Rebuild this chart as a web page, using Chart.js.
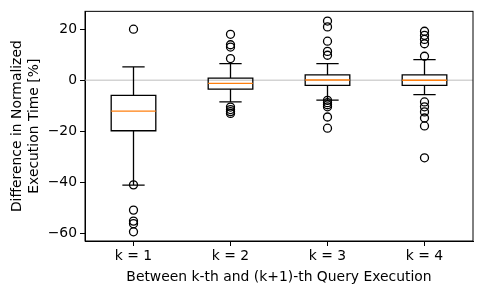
<!DOCTYPE html>
<html>
<head>
<meta charset="utf-8">
<script src="https://cdn.jsdelivr.net/npm/chart.js@4"></script>
<style>
  html, body { margin: 0; padding: 0; background: #fff; }
  #wrap { width: 482px; height: 294px; }
</style>
</head>
<body>
<div id="wrap"><canvas id="c"></canvas></div>
<script>
// categories and box stats
const labels = ['k = 1', 'k = 2', 'k = 3', 'k = 4']
const q1 = [-19.8, -3.5, -2.0, -2.0]
const q3 = [-5.9, 0.8, 2.1, 2.1]
const medians = [-12.1, -1.2, 0.1, 0.0]
const whiskLo = [-41.1, -8.5, -7.8, -5.6]
const whiskHi = [5.2, 6.5, 6.5, 8.1]
const outliers = [
  [20.0, -41.0, -50.9, -55.2, -56.2, -59.4],
  [18.0, 13.9, 13.0, 8.5, -10.5, -11.5, -12.3, -13.0],
  [23.2, 20.9, 15.3, 11.3, 9.8, -7.9, -8.8, -9.6, -10.4, -14.4, -18.8],
  [19.2, 17.6, 16.0, 14.3, 9.4, -8.5, -10.4, -12.4, -14.8, -17.9, -30.4]
]
const yTicks = [-60, -40, -20, 0, 20]

const font = { family: 'DejaVu Sans', size: 13.9 }
const lw = 1.3
const boxWidth = 0.46

let outlierPts = []
outliers.forEach((arr, i) => {
  arr.forEach(v => outlierPts.push({ x: i + 1, y: v }))
})

const boxPlugin = {
  id: 'boxbits',
  beforeDatasetsDraw(chart) {
    const { ctx, chartArea, scales } = chart
    const xs = scales.x, ys = scales.y
    // light zero line
    let y0 = ys.getPixelForValue(0)
    ctx.save()
    ctx.strokeStyle = '#d3d3d3'
    ctx.lineWidth = 1.5
    ctx.beginPath()
    ctx.moveTo(chartArea.left, y0)
    ctx.lineTo(chartArea.right, y0)
    ctx.stroke()

    ctx.lineWidth = lw
    for (let i = 0; i < labels.length; i++) {
      const cx = xs.getPixelForValue(i + 1)
      const bl = xs.getPixelForValue(i + 1 - boxWidth / 2)
      const br = xs.getPixelForValue(i + 1 + boxWidth / 2)
      const cl = xs.getPixelForValue(i + 1 - boxWidth / 4)
      const cr = xs.getPixelForValue(i + 1 + boxWidth / 4)
      const yq1 = ys.getPixelForValue(q1[i])
      const yq3 = ys.getPixelForValue(q3[i])
      const yhi = ys.getPixelForValue(whiskHi[i])
      const ylo = ys.getPixelForValue(whiskLo[i])
      ctx.strokeStyle = '#000'
      ctx.beginPath()
      ctx.rect(bl, yq3, br - bl, yq1 - yq3)
      ctx.moveTo(cx, yq3)
      ctx.lineTo(cx, yhi)
      ctx.moveTo(cx, yq1)
      ctx.lineTo(cx, ylo)
      ctx.moveTo(cl, yhi)
      ctx.lineTo(cr, yhi)
      ctx.moveTo(cl, ylo)
      ctx.lineTo(cr, ylo)
      ctx.stroke()
      const ym = ys.getPixelForValue(medians[i])
      ctx.strokeStyle = '#ff7f0e'
      ctx.beginPath()
      ctx.moveTo(bl, ym)
      ctx.lineTo(br, ym)
      ctx.stroke()
    }
    ctx.restore()
  },
  afterDatasetsDraw(chart) {
    const { ctx, chartArea } = chart
    // frame
    ctx.save()
    ctx.strokeStyle = '#000'
    ctx.lineWidth = 1
    ctx.strokeRect(chartArea.left, chartArea.top, chartArea.right - chartArea.left, chartArea.bottom - chartArea.top)
    ctx.restore()
  }
}

new Chart(document.getElementById('c'), {
  type: 'scatter',
  data: {
    datasets: [
      {
        data: outlierPts,
        pointStyle: 'circle',
        pointRadius: 4,
        pointBorderColor: '#000',
        pointBackgroundColor: 'rgba(0,0,0,0)',
        pointBorderWidth: lw,
        showLine: false
      }
    ]
  },
  options: {
    responsive: true,
    maintainAspectRatio: false,
    animation: false,
    layout: { padding: { left: 0, top: 10, right: 9, bottom: 0 } },
    plugins: { legend: { display: false }, tooltip: { enabled: false } },
    scales: {
      x: {
        type: 'linear',
        min: 0.5,
        max: 4.5,
        grid: { drawOnChartArea: false, tickLength: 5, color: '#000' },
        border: { display: true, color: '#000' },
        ticks: { color: '#000', font: font, padding: 2, callback: v => labels[v - 1] },
        afterBuildTicks(scale) { scale.ticks = labels.map((l, i) => ({ value: i + 1 })) },
        title: { display: true, text: 'Between k-th and (k+1)-th Query Execution', color: '#000', font: font, padding: { top: 0, bottom: 8 } },
        afterFit(scale) { scale.height = 53 }
      },
      y: {
        min: -63,
        max: 27,
        grid: { drawOnChartArea: false, tickLength: 5, color: '#000' },
        border: { display: true, color: '#000' },
        ticks: { color: '#000', font: font, padding: 3, callback: v => String(v).replace('-', '\u2212') },
        afterBuildTicks(scale) { scale.ticks = yTicks.map(v => ({ value: v })) },
        title: { display: true, text: ['Difference in Normalized', 'Execution Time [%]'], color: '#000', font: font, padding: { top: 9, bottom: 0 } },
        afterFit(scale) { scale.width = 85 }
      }
    }
  },
  plugins: [boxPlugin]
})
</script>
</body>
</html>
